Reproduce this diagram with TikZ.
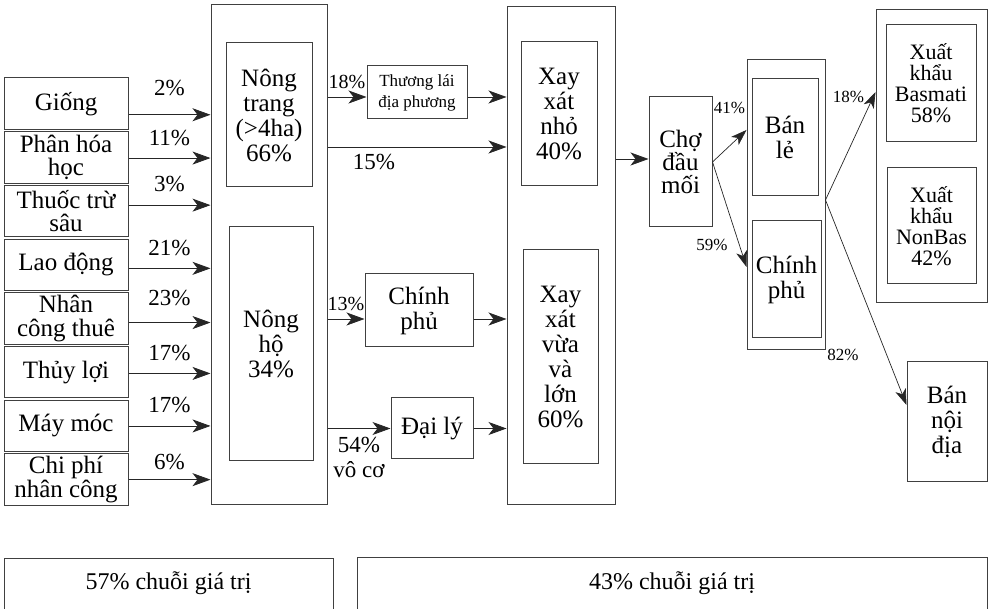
\documentclass[tikz,border=0pt]{standalone}
\usepackage{fontspec}
\setmainfont{Liberation Serif}
\usetikzlibrary{arrows.meta, positioning}

\begin{document}
\begin{tikzpicture}[
  x=1pt, y=-1pt,
  node distance=1.2pt,
  frame/.style={rectangle, draw=black!75, line width=1pt, inner sep=0pt},
  box/.style={rectangle, draw=black!75, line width=1pt, align=center, inner sep=1pt, font=\fontsize{25}{25}\selectfont},
  inbox/.style={box, minimum width=124pt, minimum height=51.5pt, inner sep=0pt, font=\fontsize{25}{23.5}\selectfont},
  sidebox/.style={box, font=\fontsize{22}{21}\selectfont},
  chainbox/.style={rectangle, draw=black!75, line width=1pt, inner sep=0pt, anchor=base, text height=31pt, text depth=50pt, font=\fontsize{24}{24}\selectfont},
  pct/.style={font=\fontsize{23}{25}\selectfont, inner sep=1pt, align=center},
  mpct/.style={font=\fontsize{20}{20}\selectfont, inner sep=1pt},
  spct/.style={font=\fontsize{17}{18}\selectfont, inner sep=1pt},
  arrow/.style={-{Stealth[length=18pt, width=13pt, inset=5pt]}, line width=0.8pt, draw=black!85},
  sarrow/.style={-{Stealth[length=16pt, width=11pt, inset=4.5pt]}, line width=0.7pt, draw=black!85}
]
  \path[use as bounding box] (0,0) rectangle (989,609);
  \clip (0,0) rectangle (989,609);

  \node[inbox] (seed) at (66,103.75) {Giống};
  \node[inbox, below=of seed] (fert) {Phân hóa\\học};
  \node[inbox, below=of fert] (pest) {Thuốc trừ\\sâu};
  \node[inbox, below=of pest] (labour) {Lao động};
  \node[inbox, below=of labour] (hired) {Nhân\\công thuê};
  \node[inbox, below=of hired] (irrig) {Thủy lợi};
  \node[inbox, below=of irrig] (machine) {Máy móc};
  \node[inbox, below=of machine] (wage) {Chi phí\\nhân công};

  \node[frame, minimum width=116pt, minimum height=500pt] (farm) at (269,255) {};
  \node[box, minimum width=86pt, minimum height=144pt] (estate) at (269,115) {Nông\\trang\\(>4ha)\\66\%};
  \node[box, minimum width=84pt, minimum height=234pt] (smallholder) at (271,344) {Nông\\hộ\\34\%};

  \node[box, font=\fontsize{17}{21}\selectfont, minimum width=100pt, minimum height=53pt] (trader) at (417,92.5) {Thương lái\\địa phương};
  \node[box, minimum width=108pt, minimum height=73pt] (gov) at (419,310.5) {Chính\\phủ};
  \node[box, minimum width=82pt, minimum height=61pt] (agent) at (432,428.5) {Đại lý};

  \node[frame, minimum width=108pt, minimum height=498pt] (mill) at (561,256) {};
  \node[box, minimum width=76pt, minimum height=144pt] (smallmill) at (559,114) {Xay\\xát\\nhỏ\\40\%};
  \node[box, minimum width=75pt, minimum height=214pt] (bigmill) at (560.5,357) {Xay\\xát\\vừa\\và\\lớn\\60\%};

  \node[box, minimum width=63pt, minimum height=130pt, font=\fontsize{25}{23}\selectfont] (market) at (680.5,162) {Chợ\\đầu\\mối};

  \node[frame, minimum width=78pt, minimum height=290pt] (outlet) at (786,205) {};
  \node[box, minimum width=66pt, minimum height=117pt] (retail) at (785,137.5) {Bán\\lẻ};
  \node[box, minimum width=69pt, minimum height=117pt] (govbuy) at (786.5,279.5) {Chính\\phủ};

  \node[frame, minimum width=111pt, minimum height=293pt] (export) at (931.5,156.5) {};
  \node[sidebox, minimum width=90pt, minimum height=117pt] (basmati) at (931,83.5) {Xuất\\khẩu\\Basmati\\58\%};
  \node[sidebox, minimum width=89pt, minimum height=116pt] (nonbas) at (931.5,226) {Xuất\\khẩu\\NonBas\\42\%};
  \node[box, minimum width=80pt, minimum height=120pt] (domestic) at (947,422) {Bán\\nội\\địa};

  \node[chainbox, minimum width=329pt] (chain57) at (168.5,590) {57\% chuỗi giá trị};
  \node[chainbox, minimum width=630pt, text height=32pt] (chain43) at (672,590) {43\% chuỗi giá trị};

  \foreach \n/\s/\d/\p in {seed/-11/18/2, fert/-0.6/10.5/11, pest/6/11.5/3, labour/-3.5/11.5/21,
                           hired/-4/15.5/23, irrig/-1.2/11.5/17, machine/0/11.5/17, wage/0/8.5/6}
    \draw[arrow] ([yshift=\s pt]\n.east) -- ([yshift=\s pt]\n.east -| farm.west)
      node[pct, midway, above=\d pt] {\p\%};

  \draw[arrow] ([yshift=-4.5pt]trader.west -| farm.east) -- ([yshift=-4.5pt]trader.west)
    node[mpct, midway, yshift=15pt] {18\%};
  \draw[arrow] ([yshift=-4.5pt]trader.east) -- ([yshift=-4.5pt]trader.east -| mill.west);
  \draw[arrow] ([yshift=-33pt]smallmill.west -| farm.east) -- ([yshift=-33pt]smallmill.west -| mill.west)
    node[pct, pos=0.26, yshift=-15.5pt] {15\%};
  \draw[arrow] ([yshift=-8.5pt]gov.west -| farm.east) -- ([yshift=-8.5pt]gov.west)
    node[mpct, midway, yshift=15pt] {13\%};
  \draw[arrow] ([yshift=-8.5pt]gov.east) -- ([yshift=-8.5pt]gov.east -| mill.west);
  \draw[arrow] (agent.west -| farm.east) -- (agent.west)
    node[pct, midway, yshift=-29pt] {54\%\\vô cơ};
  \draw[arrow] (agent.east) -- (agent.east -| mill.west);

  \draw[arrow] ([yshift=3pt]market.west -| mill.east) -- ([yshift=3pt]market.west);
  \draw[sarrow] (market.east) -- ([yshift=75pt]outlet.west)
    node[spct, midway, yshift=38pt] {41\%};
  \draw[sarrow] (market.east) -- ([yshift=-62pt]outlet.west)
    node[spct, midway, xshift=-17.5pt, yshift=-30.5pt] {59\%};
  \draw[sarrow] ([yshift=5pt]outlet.east) -- ([yshift=64.5pt]export.west)
    node[spct, midway, xshift=-2pt, yshift=49pt] {18\%};
  \draw[sarrow] ([yshift=5pt]outlet.east) -- ([yshift=17pt]domestic.west)
    node[spct, midway, xshift=-23pt, yshift=-52.5pt] {82\%};
\end{tikzpicture}
\end{document}
